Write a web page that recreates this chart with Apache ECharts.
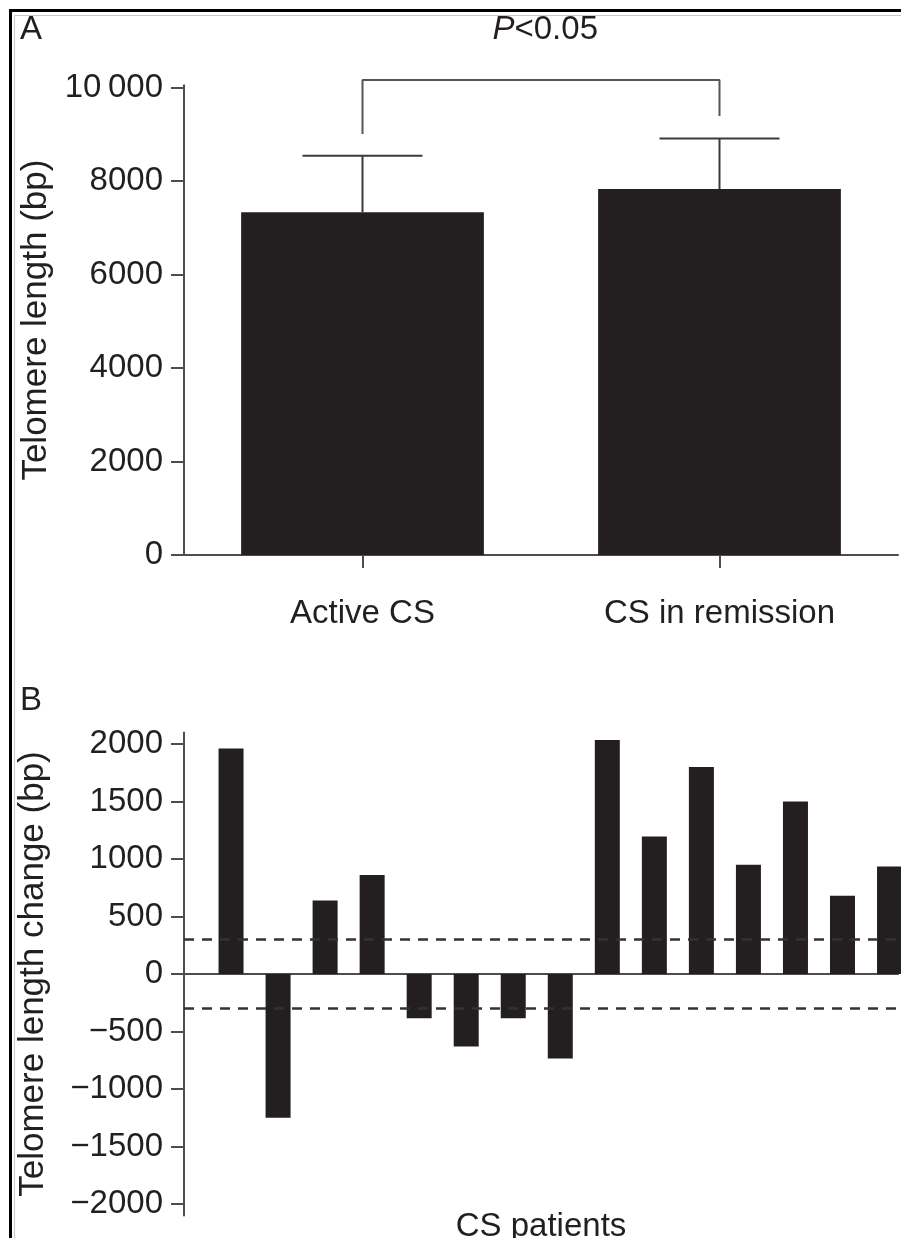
<!DOCTYPE html>
<html>
<head>
<meta charset="utf-8">
<script src="https://cdn.jsdelivr.net/npm/echarts@6/dist/echarts.min.js"></script>
<style>
html,body{margin:0;padding:0;background:#fff;}
#chart{width:901px;height:1238px;}
</style>
</head>
<body>
<div id="chart"></div>
<script>
// ---- Panel A data ----
const catsA = ['Active CS', 'CS in remission'];
const meanA = [7330, 7830];
const sdA = [1210, 1080];
const yTicksA = [0, 2000, 4000, 6000, 8000, 10000];
const bracketX = [0, 0, 1, 1];
const bracketY = [9005, 10160, 10160, 9390];
const pLabel = ['P', '<0.05'];

// ---- Panel B data ----
const patientsB = [1, 2, 3, 4, 5, 6, 7, 8, 9, 10, 11, 12, 13, 14, 15];
const changeB = [1960, -1250, 640, 860, -385, -630, -385, -735, 2035, 1195, 1800, 950, 1500, 680, 935];
const thresholdB = [300, -300];
const yTicksB = [-2000, -1500, -1000, -500, 0, 500, 1000, 1500, 2000];

const FONT = "'Liberation Sans', Arial, Helvetica, sans-serif";
const TXT = '#231f20';
const AX = '#4d4d4d';
const BAR = '#231f20';
const FS = 33;
const FSN = 35;

const chart = echarts.init(document.getElementById('chart'), null, {renderer: 'canvas'});

const option = {
  animation: false,
  backgroundColor: '#fff',
  textStyle: {fontFamily: FONT},
  grid: [
    {left: 184, top: 85.2, width: 714, height: 469.8, containLabel: false, outerBoundsMode: 'none'},
    {left: 184, top: 732.5, width: 714, height: 483, containLabel: false, outerBoundsMode: 'none'}
  ],
  xAxis: [
    {
      gridIndex: 0, type: 'category', data: catsA, boundaryGap: true,
      axisLine: {show: true, lineStyle: {color: AX, width: 2}},
      axisTick: {show: true, alignWithLabel: true, length: 13, lineStyle: {color: AX, width: 2}},
      axisLabel: {color: TXT, fontSize: FS, fontFamily: FONT, margin: 42},
      splitLine: {show: false}
    },
    {
      gridIndex: 1, type: 'value', min: 0, max: 15.18,
      axisLine: {show: true, onZero: true, lineStyle: {color: AX, width: 2}},
      axisTick: {show: false}, axisLabel: {show: false}, splitLine: {show: false},
      name: 'CS patients', nameLocation: 'middle', nameGap: -5,
      nameTextStyle: {color: TXT, fontSize: FS, fontFamily: FONT}
    }
  ],
  yAxis: [
    {
      gridIndex: 0, type: 'value', min: 0, max: 10050,
      axisLine: {show: true, lineStyle: {color: AX, width: 2}},
      axisTick: {show: true, length: 13, customValues: yTicksA, lineStyle: {color: AX, width: 2}},
      axisLabel: {
        color: TXT, fontSize: FS, fontFamily: FONT, margin: 21, customValues: yTicksA,
        formatter: v => v >= 10000 ? String(v).slice(0, -3) + '\u2009' + String(v).slice(-3) : String(v)
      },
      splitLine: {show: false},
      name: 'Telomere length (bp)', nameLocation: 'middle', nameRotate: 90, nameGap: 126,
      nameTextStyle: {color: TXT, fontSize: FSN, fontFamily: FONT}
    },
    {
      gridIndex: 1, type: 'value', min: -2100, max: 2100,
      axisLine: {show: true, lineStyle: {color: AX, width: 2}},
      axisTick: {show: true, length: 13, customValues: yTicksB, lineStyle: {color: AX, width: 2}},
      axisLabel: {
        color: TXT, fontSize: FS, fontFamily: FONT, margin: 21, customValues: yTicksB,
        formatter: v => v < 0 ? '\u2212' + Math.abs(v) : String(v)
      },
      splitLine: {show: false},
      name: 'Telomere length change (bp)', nameLocation: 'middle', nameRotate: 90, nameGap: 133,
      nameTextStyle: {color: TXT, fontSize: FSN, fontFamily: FONT}
    }
  ],
  series: [
    {
      type: 'bar', xAxisIndex: 0, yAxisIndex: 0, data: meanA, barWidth: '68%',
      itemStyle: {color: BAR}, z: 2
    },
    {
      type: 'custom', xAxisIndex: 0, yAxisIndex: 0, z: 3,
      data: meanA.map((m, i) => [i, m, m + sdA[i]]),
      encode: {x: 0, y: [1, 2]},
      renderItem: function (params, api) {
        const x = api.value(0);
        const p0 = api.coord([x, api.value(1)]);
        const p1 = api.coord([x, api.value(2)]);
        const half = api.size([1, 0])[0] * 0.168;
        const st = {stroke: '#3a3a3a', lineWidth: 2};
        return {
          type: 'group',
          children: [
            {type: 'line', shape: {x1: p0[0], y1: p0[1], x2: p1[0], y2: p1[1]}, style: st},
            {type: 'line', shape: {x1: p1[0] - half, y1: p1[1], x2: p1[0] + half, y2: p1[1]}, style: st}
          ]
        };
      }
    },
    {
      type: 'line', xAxisIndex: 0, yAxisIndex: 0, clip: false,
      data: bracketX.map((x, i) => [x, bracketY[i]]),
      symbol: 'none', showSymbol: false,
      lineStyle: {color: '#555', width: 2}, z: 3
    },
    {
      type: 'bar', xAxisIndex: 1, yAxisIndex: 1, clip: false,
      data: patientsB.map((p, i) => [p, changeB[i]]),
      barWidth: 25, itemStyle: {color: BAR}, z: 2,
      markLine: {
        silent: true, symbol: 'none', label: {show: false},
        lineStyle: {color: '#333', width: 2.5, type: [10, 8]},
        data: thresholdB.map(v => ({yAxis: v}))
      }
    }
  ],
  graphic: [
    {type: 'polyline', shape: {points: [[10.5, 1238], [10.5, 10.5], [901, 10.5]]}, style: {stroke: '#000', lineWidth: 3, fill: null}, silent: true},
    {type: 'polyline', shape: {points: [[14.5, 1238], [14.5, 15.5], [901, 15.5]]}, style: {stroke: '#c8c8c8', lineWidth: 1, fill: null}, silent: true},
    {type: 'text', x: 20, y: 13, style: {text: 'A', font: FS + 'px ' + FONT, fill: TXT, textVerticalAlign: 'top'}},
    {type: 'text', x: 20, y: 684, style: {text: 'B', font: FS + 'px ' + FONT, fill: TXT, textVerticalAlign: 'top'}},
    {type: 'text', x: 514.5, y: 13, style: {text: pLabel[0], font: 'italic ' + FS + 'px ' + FONT, fill: TXT, textAlign: 'right', textVerticalAlign: 'top'}},
    {type: 'text', x: 514.5, y: 13, style: {text: pLabel[1], font: FS + 'px ' + FONT, fill: TXT, textAlign: 'left', textVerticalAlign: 'top'}}
  ]
};

chart.setOption(option);
</script>
</body>
</html>
